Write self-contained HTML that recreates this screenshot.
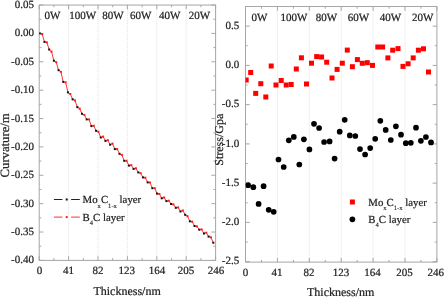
<!DOCTYPE html>
<html><head><meta charset="utf-8"><style>
html,body{margin:0;padding:0;background:#fff;}
body{width:445px;height:297px;overflow:hidden;}
svg{display:block;will-change:transform;filter:blur(0.35px);}
text{text-rendering:geometricPrecision;stroke:#222;stroke-width:0.22px;}
.t{font-family:"Liberation Serif", serif;font-size:11px;fill:#222;}
.ti{font-family:"Liberation Serif", serif;font-size:12px;fill:#222;}
.lg{font-family:"Liberation Serif", serif;font-size:10.8px;fill:#222;}
.sub{font-size:6.6px;stroke-width:0.1px;}
</style></head><body>
<svg width="445" height="297" viewBox="0 0 445 297">
<defs><clipPath id="clipL"><rect x="39.2" y="5.05" width="176.39999999999998" height="255.34999999999997"/></clipPath><clipPath id="clipR"><rect x="245.5" y="6.5" width="191.39999999999998" height="255.60000000000002"/></clipPath></defs>
<rect width="445" height="297" fill="#fff"/>
<line x1="68.60" y1="5.05" x2="68.60" y2="260.40" stroke="#e2e2e2" stroke-width="1" stroke-dasharray="1 1"/>
<line x1="98.00" y1="5.05" x2="98.00" y2="260.40" stroke="#e2e2e2" stroke-width="1" stroke-dasharray="1 1"/>
<line x1="127.40" y1="5.05" x2="127.40" y2="260.40" stroke="#e2e2e2" stroke-width="1" stroke-dasharray="1 1"/>
<line x1="156.80" y1="5.05" x2="156.80" y2="260.40" stroke="#e2e2e2" stroke-width="1" stroke-dasharray="1 1"/>
<line x1="186.20" y1="5.05" x2="186.20" y2="260.40" stroke="#e2e2e2" stroke-width="1" stroke-dasharray="1 1"/>
<line x1="39.20" y1="260.40" x2="39.20" y2="256.20" stroke="#a6a6a6" stroke-width="1"/>
<line x1="39.20" y1="5.05" x2="39.20" y2="9.25" stroke="#a6a6a6" stroke-width="1"/>
<line x1="53.90" y1="260.40" x2="53.90" y2="258.20" stroke="#a6a6a6" stroke-width="1"/>
<line x1="53.90" y1="5.05" x2="53.90" y2="7.25" stroke="#a6a6a6" stroke-width="1"/>
<line x1="68.60" y1="260.40" x2="68.60" y2="256.20" stroke="#a6a6a6" stroke-width="1"/>
<line x1="68.60" y1="5.05" x2="68.60" y2="9.25" stroke="#a6a6a6" stroke-width="1"/>
<line x1="83.30" y1="260.40" x2="83.30" y2="258.20" stroke="#a6a6a6" stroke-width="1"/>
<line x1="83.30" y1="5.05" x2="83.30" y2="7.25" stroke="#a6a6a6" stroke-width="1"/>
<line x1="98.00" y1="260.40" x2="98.00" y2="256.20" stroke="#a6a6a6" stroke-width="1"/>
<line x1="98.00" y1="5.05" x2="98.00" y2="9.25" stroke="#a6a6a6" stroke-width="1"/>
<line x1="112.70" y1="260.40" x2="112.70" y2="258.20" stroke="#a6a6a6" stroke-width="1"/>
<line x1="112.70" y1="5.05" x2="112.70" y2="7.25" stroke="#a6a6a6" stroke-width="1"/>
<line x1="127.40" y1="260.40" x2="127.40" y2="256.20" stroke="#a6a6a6" stroke-width="1"/>
<line x1="127.40" y1="5.05" x2="127.40" y2="9.25" stroke="#a6a6a6" stroke-width="1"/>
<line x1="142.10" y1="260.40" x2="142.10" y2="258.20" stroke="#a6a6a6" stroke-width="1"/>
<line x1="142.10" y1="5.05" x2="142.10" y2="7.25" stroke="#a6a6a6" stroke-width="1"/>
<line x1="156.80" y1="260.40" x2="156.80" y2="256.20" stroke="#a6a6a6" stroke-width="1"/>
<line x1="156.80" y1="5.05" x2="156.80" y2="9.25" stroke="#a6a6a6" stroke-width="1"/>
<line x1="171.50" y1="260.40" x2="171.50" y2="258.20" stroke="#a6a6a6" stroke-width="1"/>
<line x1="171.50" y1="5.05" x2="171.50" y2="7.25" stroke="#a6a6a6" stroke-width="1"/>
<line x1="186.20" y1="260.40" x2="186.20" y2="256.20" stroke="#a6a6a6" stroke-width="1"/>
<line x1="186.20" y1="5.05" x2="186.20" y2="9.25" stroke="#a6a6a6" stroke-width="1"/>
<line x1="200.90" y1="260.40" x2="200.90" y2="258.20" stroke="#a6a6a6" stroke-width="1"/>
<line x1="200.90" y1="5.05" x2="200.90" y2="7.25" stroke="#a6a6a6" stroke-width="1"/>
<line x1="215.60" y1="260.40" x2="215.60" y2="256.20" stroke="#a6a6a6" stroke-width="1"/>
<line x1="215.60" y1="5.05" x2="215.60" y2="9.25" stroke="#a6a6a6" stroke-width="1"/>
<line x1="39.20" y1="5.05" x2="43.40" y2="5.05" stroke="#a6a6a6" stroke-width="1"/>
<line x1="215.60" y1="5.05" x2="211.40" y2="5.05" stroke="#a6a6a6" stroke-width="1"/>
<line x1="39.20" y1="33.42" x2="43.40" y2="33.42" stroke="#a6a6a6" stroke-width="1"/>
<line x1="215.60" y1="33.42" x2="211.40" y2="33.42" stroke="#a6a6a6" stroke-width="1"/>
<line x1="39.20" y1="61.79" x2="43.40" y2="61.79" stroke="#a6a6a6" stroke-width="1"/>
<line x1="215.60" y1="61.79" x2="211.40" y2="61.79" stroke="#a6a6a6" stroke-width="1"/>
<line x1="39.20" y1="90.17" x2="43.40" y2="90.17" stroke="#a6a6a6" stroke-width="1"/>
<line x1="215.60" y1="90.17" x2="211.40" y2="90.17" stroke="#a6a6a6" stroke-width="1"/>
<line x1="39.20" y1="118.54" x2="43.40" y2="118.54" stroke="#a6a6a6" stroke-width="1"/>
<line x1="215.60" y1="118.54" x2="211.40" y2="118.54" stroke="#a6a6a6" stroke-width="1"/>
<line x1="39.20" y1="146.91" x2="43.40" y2="146.91" stroke="#a6a6a6" stroke-width="1"/>
<line x1="215.60" y1="146.91" x2="211.40" y2="146.91" stroke="#a6a6a6" stroke-width="1"/>
<line x1="39.20" y1="175.28" x2="43.40" y2="175.28" stroke="#a6a6a6" stroke-width="1"/>
<line x1="215.60" y1="175.28" x2="211.40" y2="175.28" stroke="#a6a6a6" stroke-width="1"/>
<line x1="39.20" y1="203.65" x2="43.40" y2="203.65" stroke="#a6a6a6" stroke-width="1"/>
<line x1="215.60" y1="203.65" x2="211.40" y2="203.65" stroke="#a6a6a6" stroke-width="1"/>
<line x1="39.20" y1="232.03" x2="43.40" y2="232.03" stroke="#a6a6a6" stroke-width="1"/>
<line x1="215.60" y1="232.03" x2="211.40" y2="232.03" stroke="#a6a6a6" stroke-width="1"/>
<line x1="39.20" y1="260.40" x2="43.40" y2="260.40" stroke="#a6a6a6" stroke-width="1"/>
<line x1="215.60" y1="260.40" x2="211.40" y2="260.40" stroke="#a6a6a6" stroke-width="1"/>
<line x1="39.20" y1="19.24" x2="41.40" y2="19.24" stroke="#a6a6a6" stroke-width="1"/>
<line x1="215.60" y1="19.24" x2="213.40" y2="19.24" stroke="#a6a6a6" stroke-width="1"/>
<line x1="39.20" y1="47.61" x2="41.40" y2="47.61" stroke="#a6a6a6" stroke-width="1"/>
<line x1="215.60" y1="47.61" x2="213.40" y2="47.61" stroke="#a6a6a6" stroke-width="1"/>
<line x1="39.20" y1="75.98" x2="41.40" y2="75.98" stroke="#a6a6a6" stroke-width="1"/>
<line x1="215.60" y1="75.98" x2="213.40" y2="75.98" stroke="#a6a6a6" stroke-width="1"/>
<line x1="39.20" y1="104.35" x2="41.40" y2="104.35" stroke="#a6a6a6" stroke-width="1"/>
<line x1="215.60" y1="104.35" x2="213.40" y2="104.35" stroke="#a6a6a6" stroke-width="1"/>
<line x1="39.20" y1="132.72" x2="41.40" y2="132.72" stroke="#a6a6a6" stroke-width="1"/>
<line x1="215.60" y1="132.72" x2="213.40" y2="132.72" stroke="#a6a6a6" stroke-width="1"/>
<line x1="39.20" y1="161.10" x2="41.40" y2="161.10" stroke="#a6a6a6" stroke-width="1"/>
<line x1="215.60" y1="161.10" x2="213.40" y2="161.10" stroke="#a6a6a6" stroke-width="1"/>
<line x1="39.20" y1="189.47" x2="41.40" y2="189.47" stroke="#a6a6a6" stroke-width="1"/>
<line x1="215.60" y1="189.47" x2="213.40" y2="189.47" stroke="#a6a6a6" stroke-width="1"/>
<line x1="39.20" y1="217.84" x2="41.40" y2="217.84" stroke="#a6a6a6" stroke-width="1"/>
<line x1="215.60" y1="217.84" x2="213.40" y2="217.84" stroke="#a6a6a6" stroke-width="1"/>
<line x1="39.20" y1="246.21" x2="41.40" y2="246.21" stroke="#a6a6a6" stroke-width="1"/>
<line x1="215.60" y1="246.21" x2="213.40" y2="246.21" stroke="#a6a6a6" stroke-width="1"/>
<rect x="39.20" y="5.05" width="176.40" height="255.35" fill="none" stroke="#a6a6a6" stroke-width="1"/>
<line x1="277.40" y1="6.50" x2="277.40" y2="262.10" stroke="#e2e2e2" stroke-width="1" stroke-dasharray="1 1"/>
<line x1="309.30" y1="6.50" x2="309.30" y2="262.10" stroke="#e2e2e2" stroke-width="1" stroke-dasharray="1 1"/>
<line x1="341.20" y1="6.50" x2="341.20" y2="262.10" stroke="#e2e2e2" stroke-width="1" stroke-dasharray="1 1"/>
<line x1="373.10" y1="6.50" x2="373.10" y2="262.10" stroke="#e2e2e2" stroke-width="1" stroke-dasharray="1 1"/>
<line x1="405.00" y1="6.50" x2="405.00" y2="262.10" stroke="#e2e2e2" stroke-width="1" stroke-dasharray="1 1"/>
<line x1="245.50" y1="262.10" x2="245.50" y2="257.90" stroke="#a6a6a6" stroke-width="1"/>
<line x1="245.50" y1="6.50" x2="245.50" y2="10.70" stroke="#a6a6a6" stroke-width="1"/>
<line x1="261.45" y1="262.10" x2="261.45" y2="259.90" stroke="#a6a6a6" stroke-width="1"/>
<line x1="261.45" y1="6.50" x2="261.45" y2="8.70" stroke="#a6a6a6" stroke-width="1"/>
<line x1="277.40" y1="262.10" x2="277.40" y2="257.90" stroke="#a6a6a6" stroke-width="1"/>
<line x1="277.40" y1="6.50" x2="277.40" y2="10.70" stroke="#a6a6a6" stroke-width="1"/>
<line x1="293.35" y1="262.10" x2="293.35" y2="259.90" stroke="#a6a6a6" stroke-width="1"/>
<line x1="293.35" y1="6.50" x2="293.35" y2="8.70" stroke="#a6a6a6" stroke-width="1"/>
<line x1="309.30" y1="262.10" x2="309.30" y2="257.90" stroke="#a6a6a6" stroke-width="1"/>
<line x1="309.30" y1="6.50" x2="309.30" y2="10.70" stroke="#a6a6a6" stroke-width="1"/>
<line x1="325.25" y1="262.10" x2="325.25" y2="259.90" stroke="#a6a6a6" stroke-width="1"/>
<line x1="325.25" y1="6.50" x2="325.25" y2="8.70" stroke="#a6a6a6" stroke-width="1"/>
<line x1="341.20" y1="262.10" x2="341.20" y2="257.90" stroke="#a6a6a6" stroke-width="1"/>
<line x1="341.20" y1="6.50" x2="341.20" y2="10.70" stroke="#a6a6a6" stroke-width="1"/>
<line x1="357.15" y1="262.10" x2="357.15" y2="259.90" stroke="#a6a6a6" stroke-width="1"/>
<line x1="357.15" y1="6.50" x2="357.15" y2="8.70" stroke="#a6a6a6" stroke-width="1"/>
<line x1="373.10" y1="262.10" x2="373.10" y2="257.90" stroke="#a6a6a6" stroke-width="1"/>
<line x1="373.10" y1="6.50" x2="373.10" y2="10.70" stroke="#a6a6a6" stroke-width="1"/>
<line x1="389.05" y1="262.10" x2="389.05" y2="259.90" stroke="#a6a6a6" stroke-width="1"/>
<line x1="389.05" y1="6.50" x2="389.05" y2="8.70" stroke="#a6a6a6" stroke-width="1"/>
<line x1="405.00" y1="262.10" x2="405.00" y2="257.90" stroke="#a6a6a6" stroke-width="1"/>
<line x1="405.00" y1="6.50" x2="405.00" y2="10.70" stroke="#a6a6a6" stroke-width="1"/>
<line x1="420.95" y1="262.10" x2="420.95" y2="259.90" stroke="#a6a6a6" stroke-width="1"/>
<line x1="420.95" y1="6.50" x2="420.95" y2="8.70" stroke="#a6a6a6" stroke-width="1"/>
<line x1="436.90" y1="262.10" x2="436.90" y2="257.90" stroke="#a6a6a6" stroke-width="1"/>
<line x1="436.90" y1="6.50" x2="436.90" y2="10.70" stroke="#a6a6a6" stroke-width="1"/>
<line x1="245.50" y1="26.15" x2="249.70" y2="26.15" stroke="#a6a6a6" stroke-width="1"/>
<line x1="436.90" y1="26.15" x2="432.70" y2="26.15" stroke="#a6a6a6" stroke-width="1"/>
<line x1="245.50" y1="65.40" x2="249.70" y2="65.40" stroke="#a6a6a6" stroke-width="1"/>
<line x1="436.90" y1="65.40" x2="432.70" y2="65.40" stroke="#a6a6a6" stroke-width="1"/>
<line x1="245.50" y1="104.65" x2="249.70" y2="104.65" stroke="#a6a6a6" stroke-width="1"/>
<line x1="436.90" y1="104.65" x2="432.70" y2="104.65" stroke="#a6a6a6" stroke-width="1"/>
<line x1="245.50" y1="143.90" x2="249.70" y2="143.90" stroke="#a6a6a6" stroke-width="1"/>
<line x1="436.90" y1="143.90" x2="432.70" y2="143.90" stroke="#a6a6a6" stroke-width="1"/>
<line x1="245.50" y1="183.15" x2="249.70" y2="183.15" stroke="#a6a6a6" stroke-width="1"/>
<line x1="436.90" y1="183.15" x2="432.70" y2="183.15" stroke="#a6a6a6" stroke-width="1"/>
<line x1="245.50" y1="222.40" x2="249.70" y2="222.40" stroke="#a6a6a6" stroke-width="1"/>
<line x1="436.90" y1="222.40" x2="432.70" y2="222.40" stroke="#a6a6a6" stroke-width="1"/>
<line x1="245.50" y1="261.65" x2="249.70" y2="261.65" stroke="#a6a6a6" stroke-width="1"/>
<line x1="436.90" y1="261.65" x2="432.70" y2="261.65" stroke="#a6a6a6" stroke-width="1"/>
<line x1="245.50" y1="6.53" x2="247.70" y2="6.53" stroke="#a6a6a6" stroke-width="1"/>
<line x1="436.90" y1="6.53" x2="434.70" y2="6.53" stroke="#a6a6a6" stroke-width="1"/>
<line x1="245.50" y1="45.78" x2="247.70" y2="45.78" stroke="#a6a6a6" stroke-width="1"/>
<line x1="436.90" y1="45.78" x2="434.70" y2="45.78" stroke="#a6a6a6" stroke-width="1"/>
<line x1="245.50" y1="85.03" x2="247.70" y2="85.03" stroke="#a6a6a6" stroke-width="1"/>
<line x1="436.90" y1="85.03" x2="434.70" y2="85.03" stroke="#a6a6a6" stroke-width="1"/>
<line x1="245.50" y1="124.28" x2="247.70" y2="124.28" stroke="#a6a6a6" stroke-width="1"/>
<line x1="436.90" y1="124.28" x2="434.70" y2="124.28" stroke="#a6a6a6" stroke-width="1"/>
<line x1="245.50" y1="163.53" x2="247.70" y2="163.53" stroke="#a6a6a6" stroke-width="1"/>
<line x1="436.90" y1="163.53" x2="434.70" y2="163.53" stroke="#a6a6a6" stroke-width="1"/>
<line x1="245.50" y1="202.78" x2="247.70" y2="202.78" stroke="#a6a6a6" stroke-width="1"/>
<line x1="436.90" y1="202.78" x2="434.70" y2="202.78" stroke="#a6a6a6" stroke-width="1"/>
<line x1="245.50" y1="242.03" x2="247.70" y2="242.03" stroke="#a6a6a6" stroke-width="1"/>
<line x1="436.90" y1="242.03" x2="434.70" y2="242.03" stroke="#a6a6a6" stroke-width="1"/>
<rect x="245.50" y="6.50" width="191.40" height="255.60" fill="none" stroke="#a6a6a6" stroke-width="1"/>
<text x="52.45" y="18.5" text-anchor="middle" class="t">0W</text>
<text x="82.80" y="18.5" text-anchor="middle" class="t">100W</text>
<text x="113.00" y="18.5" text-anchor="middle" class="t">80W</text>
<text x="140.65" y="18.5" text-anchor="middle" class="t">60W</text>
<text x="169.65" y="18.5" text-anchor="middle" class="t">40W</text>
<text x="199.35" y="18.5" text-anchor="middle" class="t">20W</text>
<text x="259.50" y="20.6" text-anchor="middle" class="t">0W</text>
<text x="294.00" y="20.6" text-anchor="middle" class="t">100W</text>
<text x="326.40" y="20.6" text-anchor="middle" class="t">80W</text>
<text x="358.35" y="20.6" text-anchor="middle" class="t">60W</text>
<text x="390.50" y="20.6" text-anchor="middle" class="t">40W</text>
<text x="422.75" y="20.6" text-anchor="middle" class="t">20W</text>
<text x="33.9" y="8.10" text-anchor="end" class="t">0.05</text>
<text x="33.9" y="36.47" text-anchor="end" class="t">0.00</text>
<text x="33.9" y="64.84" text-anchor="end" class="t">-0.05</text>
<text x="33.9" y="93.22" text-anchor="end" class="t">-0.10</text>
<text x="33.9" y="121.59" text-anchor="end" class="t">-0.15</text>
<text x="33.9" y="149.96" text-anchor="end" class="t">-0.20</text>
<text x="33.9" y="178.33" text-anchor="end" class="t">-0.25</text>
<text x="33.9" y="206.70" text-anchor="end" class="t">-0.30</text>
<text x="33.9" y="235.08" text-anchor="end" class="t">-0.35</text>
<text x="33.9" y="263.45" text-anchor="end" class="t">-0.40</text>
<text x="239.2" y="28.75" text-anchor="end" class="t">0.5</text>
<text x="239.2" y="68.00" text-anchor="end" class="t">0.0</text>
<text x="239.2" y="107.25" text-anchor="end" class="t">-0.5</text>
<text x="239.2" y="146.50" text-anchor="end" class="t">-1.0</text>
<text x="239.2" y="185.75" text-anchor="end" class="t">-1.5</text>
<text x="239.2" y="225.00" text-anchor="end" class="t">-2.0</text>
<text x="239.2" y="264.25" text-anchor="end" class="t">-2.5</text>
<text x="39.40" y="274.4" text-anchor="middle" class="t">0</text>
<text x="245.40" y="275.9" text-anchor="middle" class="t">0</text>
<text x="68.50" y="274.4" text-anchor="middle" class="t">41</text>
<text x="276.90" y="275.9" text-anchor="middle" class="t">41</text>
<text x="98.00" y="274.4" text-anchor="middle" class="t">82</text>
<text x="309.00" y="275.9" text-anchor="middle" class="t">82</text>
<text x="126.65" y="274.4" text-anchor="middle" class="t">123</text>
<text x="341.00" y="275.9" text-anchor="middle" class="t">123</text>
<text x="157.05" y="274.4" text-anchor="middle" class="t">164</text>
<text x="372.50" y="275.9" text-anchor="middle" class="t">164</text>
<text x="186.00" y="274.4" text-anchor="middle" class="t">205</text>
<text x="404.55" y="275.9" text-anchor="middle" class="t">205</text>
<text x="216.00" y="274.4" text-anchor="middle" class="t">246</text>
<text x="435.70" y="275.9" text-anchor="middle" class="t">246</text>
<text x="127.10" y="294.9" text-anchor="middle" class="ti">Thickness/nm</text>
<text x="340.65" y="295.9" text-anchor="middle" class="ti">Thickness/nm</text>
<text transform="translate(9.4,145.35) rotate(-90)" text-anchor="middle" class="ti" style="font-size:12.7px">Curvature/m</text>
<text transform="translate(222.9,139.75) rotate(-90)" text-anchor="middle" class="ti">Stress/Gpa</text>
<g clip-path="url(#clipL)">
<path d="M39.80,33.40 L42.15,34.10 L44.49,41.90 L46.84,42.40 L49.18,49.50 L51.53,51.60 L53.87,60.70 L56.22,62.20 L58.56,70.20 L60.91,71.80 L63.25,81.90 L65.60,82.30 L67.94,92.40 L70.29,94.00 L72.62,99.30 L74.97,100.50 L77.31,107.10 L79.66,108.60 L82.00,113.80 L84.35,114.90 L86.69,119.40 L89.04,119.40 L91.38,126.10 L93.73,125.70 L96.07,130.80 L98.42,131.70 L100.76,137.50 L103.11,136.60 L105.45,140.90 L107.80,140.20 L110.14,144.70 L112.49,143.60 L114.83,149.10 L117.18,149.10 L119.52,153.80 L121.87,154.90 L124.21,160.80 L126.56,160.80 L128.89,165.60 L131.24,165.20 L133.58,168.90 L135.93,168.30 L138.27,172.40 L140.62,173.20 L142.96,177.40 L145.31,177.70 L147.65,182.40 L150.00,182.50 L152.34,188.20 L154.69,188.20 L157.03,193.60 L159.38,194.00 L161.72,198.30 L164.07,197.50 L166.41,201.10 L168.76,200.70 L171.10,204.00 L173.45,204.40 L175.79,207.80 L178.14,207.40 L180.48,211.50 L182.83,210.50 L185.16,214.80 L187.51,216.20 L189.85,221.30 L192.20,221.70 L194.54,226.00 L196.89,226.40 L199.23,229.70 L201.58,229.40 L203.92,233.50 L206.27,232.70 L208.61,236.60 L210.96,237.40 L213.30,242.70" fill="none" stroke="#ff2a2a" stroke-width="0.95"/>
<rect x="38.80" y="32.40" width="2" height="2" fill="#111"/>
<rect x="41.15" y="33.10" width="2" height="2" fill="#ff1a1a"/>
<rect x="43.49" y="40.90" width="2" height="2" fill="#111"/>
<rect x="45.84" y="41.40" width="2" height="2" fill="#ff1a1a"/>
<rect x="48.18" y="48.50" width="2" height="2" fill="#111"/>
<rect x="50.53" y="50.60" width="2" height="2" fill="#ff1a1a"/>
<rect x="52.87" y="59.70" width="2" height="2" fill="#111"/>
<rect x="55.22" y="61.20" width="2" height="2" fill="#ff1a1a"/>
<rect x="57.56" y="69.20" width="2" height="2" fill="#111"/>
<rect x="59.91" y="70.80" width="2" height="2" fill="#ff1a1a"/>
<rect x="62.25" y="80.90" width="2" height="2" fill="#111"/>
<rect x="64.60" y="81.30" width="2" height="2" fill="#ff1a1a"/>
<rect x="66.94" y="91.40" width="2" height="2" fill="#111"/>
<rect x="69.29" y="93.00" width="2" height="2" fill="#ff1a1a"/>
<rect x="71.62" y="98.30" width="2" height="2" fill="#111"/>
<rect x="73.97" y="99.50" width="2" height="2" fill="#ff1a1a"/>
<rect x="76.31" y="106.10" width="2" height="2" fill="#111"/>
<rect x="78.66" y="107.60" width="2" height="2" fill="#ff1a1a"/>
<rect x="81.00" y="112.80" width="2" height="2" fill="#111"/>
<rect x="83.35" y="113.90" width="2" height="2" fill="#ff1a1a"/>
<rect x="85.69" y="118.40" width="2" height="2" fill="#111"/>
<rect x="88.04" y="118.40" width="2" height="2" fill="#ff1a1a"/>
<rect x="90.38" y="125.10" width="2" height="2" fill="#111"/>
<rect x="92.73" y="124.70" width="2" height="2" fill="#ff1a1a"/>
<rect x="95.07" y="129.80" width="2" height="2" fill="#111"/>
<rect x="97.42" y="130.70" width="2" height="2" fill="#ff1a1a"/>
<rect x="99.76" y="136.50" width="2" height="2" fill="#111"/>
<rect x="102.11" y="135.60" width="2" height="2" fill="#ff1a1a"/>
<rect x="104.45" y="139.90" width="2" height="2" fill="#111"/>
<rect x="106.80" y="139.20" width="2" height="2" fill="#ff1a1a"/>
<rect x="109.14" y="143.70" width="2" height="2" fill="#111"/>
<rect x="111.49" y="142.60" width="2" height="2" fill="#ff1a1a"/>
<rect x="113.83" y="148.10" width="2" height="2" fill="#111"/>
<rect x="116.18" y="148.10" width="2" height="2" fill="#ff1a1a"/>
<rect x="118.52" y="152.80" width="2" height="2" fill="#111"/>
<rect x="120.87" y="153.90" width="2" height="2" fill="#ff1a1a"/>
<rect x="123.21" y="159.80" width="2" height="2" fill="#111"/>
<rect x="125.56" y="159.80" width="2" height="2" fill="#ff1a1a"/>
<rect x="127.89" y="164.60" width="2" height="2" fill="#111"/>
<rect x="130.24" y="164.20" width="2" height="2" fill="#ff1a1a"/>
<rect x="132.58" y="167.90" width="2" height="2" fill="#111"/>
<rect x="134.93" y="167.30" width="2" height="2" fill="#ff1a1a"/>
<rect x="137.27" y="171.40" width="2" height="2" fill="#111"/>
<rect x="139.62" y="172.20" width="2" height="2" fill="#ff1a1a"/>
<rect x="141.96" y="176.40" width="2" height="2" fill="#111"/>
<rect x="144.31" y="176.70" width="2" height="2" fill="#ff1a1a"/>
<rect x="146.65" y="181.40" width="2" height="2" fill="#111"/>
<rect x="149.00" y="181.50" width="2" height="2" fill="#ff1a1a"/>
<rect x="151.34" y="187.20" width="2" height="2" fill="#111"/>
<rect x="153.69" y="187.20" width="2" height="2" fill="#ff1a1a"/>
<rect x="156.03" y="192.60" width="2" height="2" fill="#111"/>
<rect x="158.38" y="193.00" width="2" height="2" fill="#ff1a1a"/>
<rect x="160.72" y="197.30" width="2" height="2" fill="#111"/>
<rect x="163.07" y="196.50" width="2" height="2" fill="#ff1a1a"/>
<rect x="165.41" y="200.10" width="2" height="2" fill="#111"/>
<rect x="167.76" y="199.70" width="2" height="2" fill="#ff1a1a"/>
<rect x="170.10" y="203.00" width="2" height="2" fill="#111"/>
<rect x="172.45" y="203.40" width="2" height="2" fill="#ff1a1a"/>
<rect x="174.79" y="206.80" width="2" height="2" fill="#111"/>
<rect x="177.14" y="206.40" width="2" height="2" fill="#ff1a1a"/>
<rect x="179.48" y="210.50" width="2" height="2" fill="#111"/>
<rect x="181.83" y="209.50" width="2" height="2" fill="#ff1a1a"/>
<rect x="184.16" y="213.80" width="2" height="2" fill="#111"/>
<rect x="186.51" y="215.20" width="2" height="2" fill="#ff1a1a"/>
<rect x="188.85" y="220.30" width="2" height="2" fill="#111"/>
<rect x="191.20" y="220.70" width="2" height="2" fill="#ff1a1a"/>
<rect x="193.54" y="225.00" width="2" height="2" fill="#111"/>
<rect x="195.89" y="225.40" width="2" height="2" fill="#ff1a1a"/>
<rect x="198.23" y="228.70" width="2" height="2" fill="#111"/>
<rect x="200.58" y="228.40" width="2" height="2" fill="#ff1a1a"/>
<rect x="202.92" y="232.50" width="2" height="2" fill="#111"/>
<rect x="205.27" y="231.70" width="2" height="2" fill="#ff1a1a"/>
<rect x="207.61" y="235.60" width="2" height="2" fill="#111"/>
<rect x="209.96" y="236.40" width="2" height="2" fill="#ff1a1a"/>
<rect x="212.30" y="241.70" width="2" height="2" fill="#111"/>
</g>
<g clip-path="url(#clipR)">
<rect x="243.70" y="77.50" width="5.0" height="5.0" fill="#ff0000"/>
<rect x="248.20" y="70.00" width="5.0" height="5.0" fill="#ff0000"/>
<rect x="253.20" y="90.90" width="5.0" height="5.0" fill="#ff0000"/>
<rect x="258.30" y="81.20" width="5.0" height="5.0" fill="#ff0000"/>
<rect x="263.30" y="94.50" width="5.0" height="5.0" fill="#ff0000"/>
<rect x="268.70" y="63.50" width="5.0" height="5.0" fill="#ff0000"/>
<rect x="273.50" y="82.50" width="5.0" height="5.0" fill="#ff0000"/>
<rect x="278.70" y="78.00" width="5.0" height="5.0" fill="#ff0000"/>
<rect x="283.70" y="82.50" width="5.0" height="5.0" fill="#ff0000"/>
<rect x="288.70" y="82.00" width="5.0" height="5.0" fill="#ff0000"/>
<rect x="293.80" y="66.50" width="5.0" height="5.0" fill="#ff0000"/>
<rect x="298.90" y="55.30" width="5.0" height="5.0" fill="#ff0000"/>
<rect x="304.00" y="81.50" width="5.0" height="5.0" fill="#ff0000"/>
<rect x="309.00" y="60.70" width="5.0" height="5.0" fill="#ff0000"/>
<rect x="314.20" y="54.10" width="5.0" height="5.0" fill="#ff0000"/>
<rect x="319.10" y="54.50" width="5.0" height="5.0" fill="#ff0000"/>
<rect x="324.20" y="59.70" width="5.0" height="5.0" fill="#ff0000"/>
<rect x="329.50" y="75.50" width="5.0" height="5.0" fill="#ff0000"/>
<rect x="334.60" y="66.90" width="5.0" height="5.0" fill="#ff0000"/>
<rect x="339.80" y="60.70" width="5.0" height="5.0" fill="#ff0000"/>
<rect x="344.80" y="47.60" width="5.0" height="5.0" fill="#ff0000"/>
<rect x="349.90" y="64.20" width="5.0" height="5.0" fill="#ff0000"/>
<rect x="354.90" y="57.10" width="5.0" height="5.0" fill="#ff0000"/>
<rect x="359.80" y="60.80" width="5.0" height="5.0" fill="#ff0000"/>
<rect x="364.80" y="60.20" width="5.0" height="5.0" fill="#ff0000"/>
<rect x="370.00" y="62.90" width="5.0" height="5.0" fill="#ff0000"/>
<rect x="375.30" y="44.50" width="5.0" height="5.0" fill="#ff0000"/>
<rect x="380.10" y="44.50" width="5.0" height="5.0" fill="#ff0000"/>
<rect x="385.40" y="55.40" width="5.0" height="5.0" fill="#ff0000"/>
<rect x="390.20" y="47.70" width="5.0" height="5.0" fill="#ff0000"/>
<rect x="395.50" y="46.10" width="5.0" height="5.0" fill="#ff0000"/>
<rect x="400.50" y="63.90" width="5.0" height="5.0" fill="#ff0000"/>
<rect x="405.60" y="61.30" width="5.0" height="5.0" fill="#ff0000"/>
<rect x="410.70" y="55.40" width="5.0" height="5.0" fill="#ff0000"/>
<rect x="415.90" y="47.70" width="5.0" height="5.0" fill="#ff0000"/>
<rect x="421.00" y="46.30" width="5.0" height="5.0" fill="#ff0000"/>
<rect x="426.00" y="69.50" width="5.0" height="5.0" fill="#ff0000"/>
<circle cx="248.10" cy="185.20" r="2.85" fill="#000"/>
<circle cx="253.30" cy="187.20" r="2.85" fill="#000"/>
<circle cx="258.60" cy="203.90" r="2.85" fill="#000"/>
<circle cx="263.60" cy="186.20" r="2.85" fill="#000"/>
<circle cx="268.70" cy="209.80" r="2.85" fill="#000"/>
<circle cx="273.70" cy="211.80" r="2.85" fill="#000"/>
<circle cx="278.50" cy="159.50" r="2.85" fill="#000"/>
<circle cx="283.70" cy="167.00" r="2.85" fill="#000"/>
<circle cx="288.80" cy="140.30" r="2.85" fill="#000"/>
<circle cx="293.80" cy="136.90" r="2.85" fill="#000"/>
<circle cx="299.30" cy="164.50" r="2.85" fill="#000"/>
<circle cx="303.90" cy="139.30" r="2.85" fill="#000"/>
<circle cx="309.40" cy="149.40" r="2.85" fill="#000"/>
<circle cx="314.00" cy="123.80" r="2.85" fill="#000"/>
<circle cx="319.10" cy="128.00" r="2.85" fill="#000"/>
<circle cx="324.10" cy="142.00" r="2.85" fill="#000"/>
<circle cx="329.60" cy="141.40" r="2.85" fill="#000"/>
<circle cx="334.60" cy="158.60" r="2.85" fill="#000"/>
<circle cx="339.70" cy="131.70" r="2.85" fill="#000"/>
<circle cx="344.70" cy="119.80" r="2.85" fill="#000"/>
<circle cx="349.80" cy="135.40" r="2.85" fill="#000"/>
<circle cx="355.30" cy="136.00" r="2.85" fill="#000"/>
<circle cx="360.00" cy="149.10" r="2.85" fill="#000"/>
<circle cx="365.10" cy="154.50" r="2.85" fill="#000"/>
<circle cx="370.20" cy="148.10" r="2.85" fill="#000"/>
<circle cx="375.20" cy="138.80" r="2.85" fill="#000"/>
<circle cx="380.30" cy="120.80" r="2.85" fill="#000"/>
<circle cx="385.70" cy="129.90" r="2.85" fill="#000"/>
<circle cx="390.80" cy="140.00" r="2.85" fill="#000"/>
<circle cx="395.90" cy="126.30" r="2.85" fill="#000"/>
<circle cx="401.00" cy="134.70" r="2.85" fill="#000"/>
<circle cx="405.80" cy="143.20" r="2.85" fill="#000"/>
<circle cx="410.80" cy="142.80" r="2.85" fill="#000"/>
<circle cx="416.00" cy="127.70" r="2.85" fill="#000"/>
<circle cx="420.90" cy="140.80" r="2.85" fill="#000"/>
<circle cx="425.90" cy="137.00" r="2.85" fill="#000"/>
<circle cx="431.00" cy="142.40" r="2.85" fill="#000"/>
</g>
<line x1="53.9" y1="199.5" x2="62.4" y2="199.5" stroke="#222" stroke-width="1"/>
<line x1="71.1" y1="199.5" x2="79.8" y2="199.5" stroke="#222" stroke-width="1"/>
<rect x="65.7" y="198.5" width="2" height="2" fill="#111"/>
<line x1="53.9" y1="217.1" x2="62.4" y2="217.1" stroke="#ff3030" stroke-width="1"/>
<line x1="71.1" y1="217.1" x2="79.8" y2="217.1" stroke="#ff3030" stroke-width="1"/>
<rect x="65.7" y="216.1" width="2" height="2" fill="#ff1a1a"/>
<text x="82.6" y="203.1" class="lg">Mo<tspan class="sub" dy="4.4">x</tspan><tspan dy="-4.4">C</tspan><tspan class="sub" dy="4.4">1-x</tspan><tspan dy="-4.4"> layer</tspan></text>
<text x="82.6" y="220.6" class="lg">B<tspan class="sub" dy="4.4">4</tspan><tspan dy="-4.4">C layer</tspan></text>
<rect x="349.90" y="199.50" width="5" height="5" fill="#ff0000"/>
<circle cx="352.4" cy="219.3" r="2.85" fill="#000"/>
<text x="368.3" y="205.9" class="lg">Mo<tspan class="sub" dy="4.4">x</tspan><tspan dy="-4.4">C</tspan><tspan class="sub" dy="4.4">1-x</tspan><tspan dy="-4.4"> layer</tspan></text>
<text x="368.3" y="222.9" class="lg">B<tspan class="sub" dy="4.4">4</tspan><tspan dy="-4.4">C layer</tspan></text>
</svg>
</body></html>
